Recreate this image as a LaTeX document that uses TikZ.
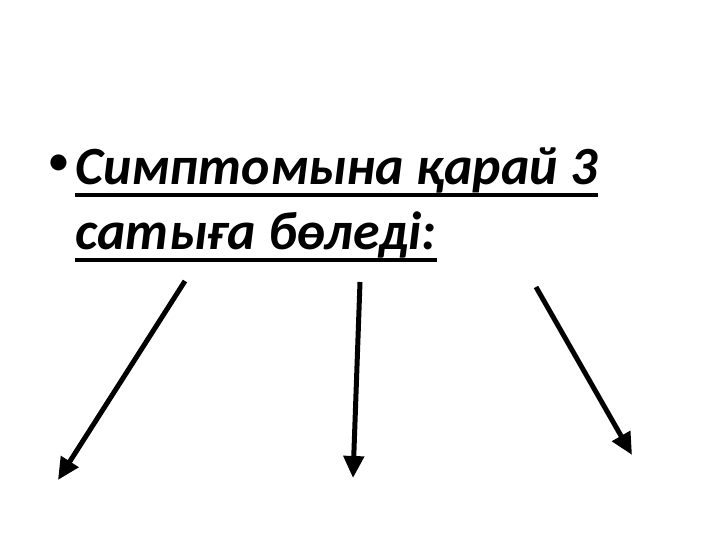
\documentclass[tikz,border=0pt]{standalone}
\usepackage{fontspec}
\setmainfont{Carlito}
\usetikzlibrary{arrows.meta, positioning, calc}

\begin{document}
\begin{tikzpicture}[x=1bp, y=1bp]
    \useasboundingbox (0,0) rectangle (720,540);
    \tikzset{
        line/.style={inner sep=0pt, anchor=base west, font=\fontsize{54}{60}\selectfont\bfseries\itshape},
        uline/.style={line width=4.5bp},
        arrow/.style={line width=5bp, -{Triangle[length=22bp, width=20bp]}}
    }
    \node[inner sep=0pt, font=\fontsize{38}{38}\selectfont\bfseries] (dot) at (59,376) {•};
    \node[line] (l1) at (75,355) {Симптомына қарай 3};
    \node[line] (l2) at (75,290) {сатыға бөледі:};
    \draw[uline] ($(l1.base west)+(0,-10)$) -- ($(l1.base east)+(0,-10)$);
    \draw[uline] ($(l2.base west)+(0,-10)$) -- ($(l2.base east)+(0,-10)$);

    \coordinate (a1) at (185,259);
    \coordinate (b1) at (58,60);
    \coordinate (a2) at (360,258);
    \coordinate (b2) at (353,62);
    \coordinate (a3) at (536,253);
    \coordinate (b3) at (632,85);
    \draw[arrow] (a1) -- (b1);
    \draw[arrow] (a2) -- (b2);
    \draw[arrow] (a3) -- (b3);
\end{tikzpicture}
\end{document}
